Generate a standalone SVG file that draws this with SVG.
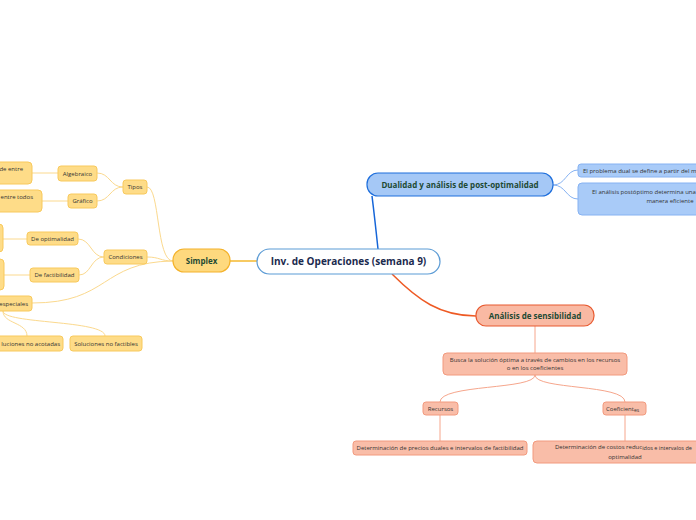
<svg xmlns="http://www.w3.org/2000/svg" width="696" height="520" viewBox="0 0 696 520">
<style>
text{font-family:"Open Sans","Noto Sans","DejaVu Sans",sans-serif;}
.t{font-size:6px;fill:#333;text-anchor:middle;}
.ts{font-size:6px;fill:#333;}
.te{font-size:6px;fill:#333;text-anchor:end;}
.b{font-weight:bold;fill:#1e4a34;text-anchor:middle;font-size:8px;}
.y{fill:#fedc88;stroke:#f8c95c;stroke-width:1;}
.bl{fill:#a9cbf8;stroke:#86b2f2;stroke-width:1;}
.rd{fill:#f9bda8;stroke:#f29a7e;stroke-width:1;}
.cy{fill:none;stroke:#fbd98e;stroke-width:1;}
.cb{fill:none;stroke:#86b2f2;stroke-width:1;}
.cr{fill:none;stroke:#f6a68c;stroke-width:1;}
</style>
<rect width="696" height="520" fill="#fff"/>
<g id="connectors">
<path d="M230,261 L257,261" fill="none" stroke="#f5b82e" stroke-width="1.5"/>
<path d="M378,249 C376,230 374,212 372,196" fill="none" stroke="#1565d8" stroke-width="1.5"/>
<path d="M392,274 C418,300 440,316 476,316" fill="none" stroke="#ee5a24" stroke-width="1.5"/>
<path class="cb" d="M553,185 C566,185 566,170 578,170"/>
<path class="cb" d="M553,185 C566,185 566,199 578,199"/>
<path class="cr" d="M535,326 L535,353"/>
<path class="cr" d="M535,375 C535,390 440,384 440,402"/>
<path class="cr" d="M535,375 C535,390 625,384 625,402"/>
<path class="cr" d="M440,415 L440,441"/>
<path class="cr" d="M625,415 L625,441"/>
<path class="cy" d="M173,261 C156,261 160,187 147,187"/>
<path class="cy" d="M173,261 C160,261 160,257 147,257"/>
<path class="cy" d="M173,261 C100,262 110,303 32,303"/>
<path class="cy" d="M123,187 C110,187 110,173 97,173"/>
<path class="cy" d="M123,187 C110,187 110,201 97,201"/>
<path class="cy" d="M104,257 C91,257 91,239 78,239"/>
<path class="cy" d="M104,257 C91,257 91,275 79,275"/>
<path class="cy" d="M58,173 L32,173"/>
<path class="cy" d="M68,201 L42,201"/>
<path class="cy" d="M27,239 L3,239"/>
<path class="cy" d="M30,275 L4,275"/>
<path class="cy" d="M3,311 C3,324 27,322 27,336"/>
<path class="cy" d="M3,311 C3,324 105,320 105,336"/>
</g>
<g id="central">
<rect x="257" y="249" width="183" height="25" rx="12.5" fill="#fff" stroke="#5b9bd5" stroke-width="1.2"/>
<text x="348.5" y="265" font-size="10" font-weight="bold" fill="#1b2a4e" text-anchor="middle">Inv. de Operaciones (semana 9)</text>
</g>
<g id="simplex">
<rect x="173" y="249" width="57" height="23" rx="11" fill="#fed97e" stroke="#f4b22a" stroke-width="1.2"/>
<text class="b" x="201.5" y="264">Simplex</text>
</g>
<g id="dualidad">
<rect x="367" y="173" width="186" height="23" rx="11" fill="#a5c8f6" stroke="#1f6fdc" stroke-width="1.2"/>
<text class="b" x="460" y="188">Dualidad y análisis de post-optimalidad</text>
</g>
<g id="dual1">
<rect class="bl" x="578" y="164" width="150" height="13" rx="3"/>
<text class="ts" x="583" y="172.5">El problema dual se <tspan dy="0.8">define a partir del m</tspan></text>
</g>
<g id="dual2">
<rect class="bl" x="578" y="183" width="190" height="32" rx="4"/>
<text class="ts" x="592" y="194">El análisis postóptimo determina una</text>
<text class="t" x="670" y="203">manera eficiente</text>
</g>
<g id="analisis">
<rect x="476" y="305" width="118" height="21" rx="10" fill="#f9b9a3" stroke="#e85a30" stroke-width="1.2"/>
<text class="b" x="535" y="319">Análisis de sensibilidad</text>
</g>
<g id="busca">
<rect class="rd" x="443" y="353" width="184" height="22" rx="4"/>
<text class="t" x="535" y="361.5">Busca la solución óptima a través de cambios en los recursos</text>
<text class="t" x="535" y="370">o en los coeficientes</text>
</g>
<g id="recursos">
<rect class="rd" x="423" y="402" width="35" height="13" rx="3"/>
<text class="t" x="440.5" y="410.5">Recursos</text>
</g>
<g id="coeficientes">
<rect class="rd" x="603" y="402" width="43" height="13" rx="3"/>
<text class="ts" x="606" y="410.5">Coeficient<tspan font-size="5" dy="1">es</tspan></text>
</g>
<g id="precios">
<rect class="rd" x="353" y="441" width="174" height="14" rx="3"/>
<text class="t" x="440" y="450">Determinación de precios duales e intervalos de factibilidad</text>
</g>
<g id="costos">
<rect class="rd" x="533" y="441" width="190" height="22" rx="4"/>
<text class="ts" x="555" y="449">Determinación de costos reduc<tspan font-size="5.5" dy="0.8">idos e intervalos de</tspan></text>
<text class="t" x="625" y="458.5">optimalidad</text>
</g>
<g id="tipos">
<rect class="y" x="123" y="180" width="24" height="14" rx="3"/>
<text class="t" x="135" y="189">Tipos</text>
</g>
<g id="algebraico">
<rect class="y" x="58" y="166" width="39" height="15" rx="3"/>
<text class="t" x="77.5" y="175.5">Algebraico</text>
</g>
<g id="grafico">
<rect class="y" x="68" y="194" width="29" height="14" rx="3"/>
<text class="t" x="82.5" y="203">Gráfico</text>
</g>
<g id="alg-child">
<rect class="y" x="-60" y="162" width="92" height="22" rx="4"/>
<text class="te" x="23" y="171">de entre</text>
</g>
<g id="graf-child">
<rect class="y" x="-60" y="190" width="102" height="22" rx="4"/>
<text class="te" x="33" y="199">entre todos</text>
</g>
<g id="condiciones">
<rect class="y" x="104" y="250" width="43" height="14" rx="3"/>
<text class="t" x="125.5" y="259">Condiciones</text>
</g>
<g id="optimalidad">
<rect class="y" x="27" y="232" width="51" height="13" rx="3"/>
<text class="t" x="52.5" y="240.5">De optimalidad</text>
</g>
<g id="factibilidad">
<rect class="y" x="30" y="268" width="49" height="14" rx="3"/>
<text class="t" x="54.5" y="277">De factibilidad</text>
</g>
<g id="opt-child">
<rect class="y" x="-60" y="224" width="63" height="28" rx="4"/>
</g>
<g id="fact-child">
<rect class="y" x="-60" y="259" width="64" height="31" rx="4"/>
</g>
<g id="especiales">
<rect class="y" x="-60" y="296" width="92" height="15" rx="3"/>
<text class="te" x="28" y="305.5">especiales</text>
</g>
<g id="acotadas">
<rect class="y" x="-20" y="336" width="83" height="15" rx="3"/>
<text class="te" x="60" y="345.5">luciones no acotadas</text>
</g>
<g id="factibles">
<rect class="y" x="70" y="336" width="72" height="15" rx="3"/>
<text class="t" x="106" y="345.5">Soluciones no factibles</text>
</g>
</svg>
